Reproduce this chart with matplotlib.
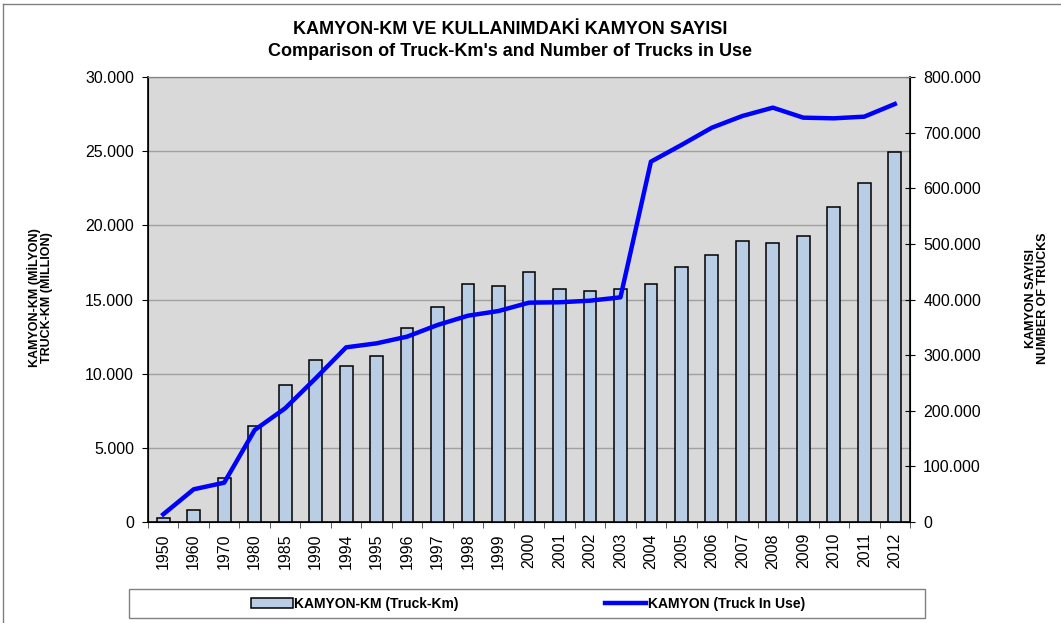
import numpy as np
import matplotlib
matplotlib.use('Agg')
import matplotlib.pyplot as plt
from matplotlib.patches import Patch, Rectangle
from matplotlib.lines import Line2D
from matplotlib.ticker import FuncFormatter

plt.rcParams['font.family'] = ['Liberation Sans', 'DejaVu Sans']

# data
years = ['1950', '1960', '1970', '1980', '1985', '1990', '1994', '1995', '1996',
         '1997', '1998', '1999', '2000', '2001', '2002', '2003', '2004', '2005',
         '2006', '2007', '2008', '2009', '2010', '2011', '2012']
truck_km = [250, 800, 2970, 6450, 9240, 10920, 10540, 11210, 13060,
            14520, 16070, 15910, 16830, 15690, 15600, 15710, 16020, 17190,
            17980, 18960, 18810, 19260, 21260, 22830, 24940]
trucks_in_use = [13800, 58800, 70700, 165400, 204400, 258300, 314000, 321200, 333200,
                 354200, 370900, 379300, 394300, 395000, 397900, 403900, 647800, 677800,
                 708900, 729900, 744900, 726900, 725700, 728700, 751400]


def dot_thousands(v, pos=None):
    return f'{v:,.0f}'.replace(',', '.')


fig = plt.figure(figsize=(10.61, 6.23), dpi=100)
fig.patch.set_facecolor('white')

ax = fig.add_axes([148 / 1061, 1 - 522 / 623, 762 / 1061, 445 / 623])
ax.set_facecolor('#d9d9d9')
x = np.arange(len(years))

ax.bar(x, truck_km, width=0.42, color='#b9cde5', edgecolor='black', linewidth=1.1, zorder=3)
ax.set_xlim(-0.5, len(years) - 0.5)
ax.set_ylim(0, 30000)
ax.set_yticks(np.arange(0, 30001, 5000))
ax.yaxis.set_major_formatter(FuncFormatter(dot_thousands))
ax.grid(axis='y', color='#a0a0a0', lw=1.0, zorder=0)
ax.set_axisbelow(True)

ax.set_xticks(x)
ax.set_xticklabels(years, rotation=90, fontsize=11.5)
ax.set_xticks(np.arange(-0.5, len(years), 1.0), minor=True)
ax.tick_params(axis='x', which='major', length=0, pad=8)
ax.tick_params(axis='x', which='minor', length=4, direction='out', color='#404040')
ax.tick_params(axis='y', labelsize=11.5, length=4, direction='out', pad=6)

for s in ['left', 'bottom']:
    ax.spines[s].set_color('black')
    ax.spines[s].set_linewidth(1.2)
ax.spines['top'].set_color('#808080')
ax.spines['right'].set_color('black')

ax2 = ax.twinx()
ax2.plot(x, trucks_in_use, color='#0000ff', lw=3.2, solid_joinstyle='round', zorder=5)
ax2.set_ylim(0, 800000)
ax2.set_yticks(np.arange(0, 800001, 100000))
ax2.yaxis.set_major_formatter(FuncFormatter(dot_thousands))
ax2.tick_params(axis='y', labelsize=11.5, length=7, direction='inout', pad=6)
ax2.spines['right'].set_linewidth(1.2)
ax2.spines['top'].set_color('#808080')

# titles
fig.text(510 / 1061, 1 - 30 / 623, 'KAMYON-KM VE KULLANIMDAKİ KAMYON SAYISI',
         ha='center', va='center', fontsize=13, fontweight='bold')
fig.text(510 / 1061, 1 - 52 / 623, "Comparison of Truck-Km's and Number of Trucks in Use",
         ha='center', va='center', fontsize=13, fontweight='bold')

# axis labels
fig.text(40 / 1061, 1 - 298 / 623, 'KAMYON-KM (MİLYON)\nTRUCK-KM (MILLION)',
         rotation=90, ha='center', va='center', fontsize=9, fontweight='bold',
         linespacing=1.1, multialignment='center')
fig.text(1037 / 1061, 1 - 298 / 623, 'KAMYON SAYISI\nNUMBER OF TRUCKS',
         rotation=90, ha='center', va='center', fontsize=9, fontweight='bold',
         linespacing=1.1, multialignment='center')

# legend frame and entries
fig.patches.append(Rectangle((129 / 1061, 1 - 618 / 623), 796 / 1061, 29 / 623,
                             transform=fig.transFigure, facecolor='white',
                             edgecolor='#808080', lw=1.0))
handles = [Patch(facecolor='#b9cde5', edgecolor='black', linewidth=1.1),
           Line2D([0], [0], color='#0000ff', lw=3.2)]
labels = ['KAMYON-KM (Truck-Km)', 'KAMYON (Truck In Use)']
fig.legend(handles, labels, loc='center', bbox_to_anchor=(528 / 1061, 1 - 604 / 623),
           ncol=2, frameon=False, prop={'size': 10, 'weight': 'bold'},
           handlelength=3.0, handletextpad=0.1, columnspacing=10.5, handleheight=0.7)

# outer border (top and left visible)
fig.add_artist(Line2D([3 / 1061, 1], [1 - 4 / 623, 1 - 4 / 623], transform=fig.transFigure,
                      color='#808080', lw=1.0))
fig.add_artist(Line2D([3 / 1061, 3 / 1061], [0, 1 - 4 / 623], transform=fig.transFigure,
                      color='#808080', lw=1.0))

fig.savefig('out.png', dpi=100, facecolor='white')
